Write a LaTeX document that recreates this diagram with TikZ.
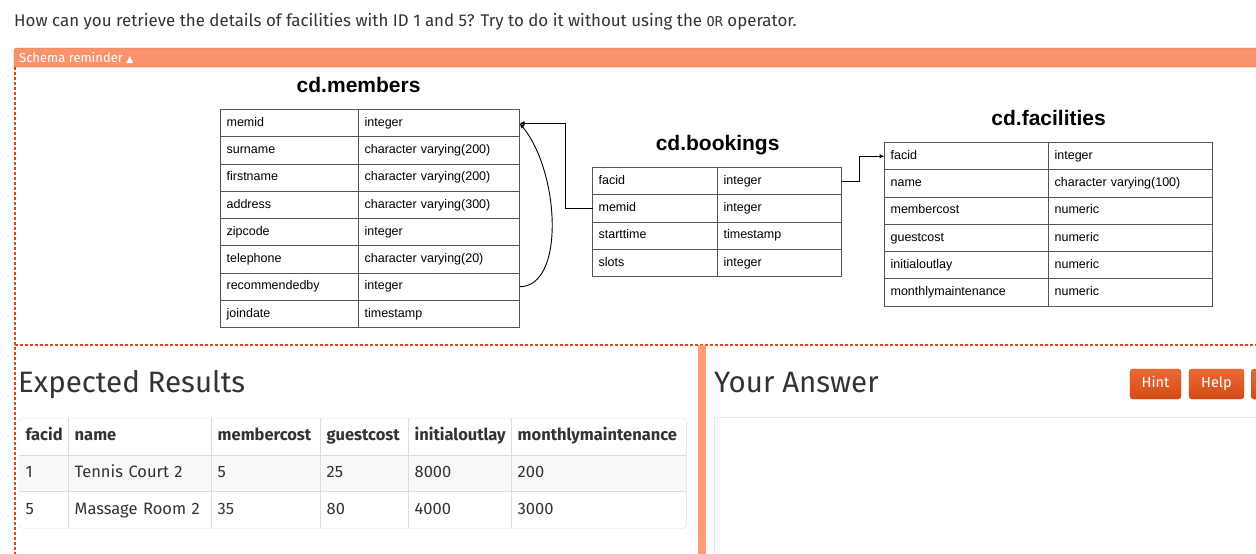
\documentclass[tikz,border=0pt]{standalone}
\usepackage{fontspec}
\setmainfont{Fira Sans}
\newfontfamily\arialfont{Liberation Sans}
\newfontfamily\codefont{DejaVu Sans Mono}
\newfontfamily\symbfont{DejaVu Sans}
\usetikzlibrary{arrows.meta, positioning, matrix}

\definecolor{barorange}{HTML}{F9936E}
\definecolor{barline}{HTML}{E2622F}
\definecolor{dashorange}{HTML}{E4481A}
\definecolor{splitter}{HTML}{FF9B77}
\definecolor{btntop}{HTML}{EB6A35}
\definecolor{btnbottom}{HTML}{D44A17}
\definecolor{btnline}{HTML}{C2431A}
\definecolor{textgrey}{HTML}{333333}
\definecolor{cellline}{HTML}{DDDDDD}
\definecolor{answerline}{HTML}{E6E6E6}
\definecolor{stripe}{HTML}{F9F9F9}
\definecolor{schemaline}{HTML}{555555}

\tikzset{
  schema/.style={matrix of nodes, anchor=north west, inner sep=0pt,
    column sep=-0.8pt, row sep=-0.8pt,
    nodes={draw=schemaline, line width=0.8pt, outer sep=0pt, inner xsep=6pt,
      minimum height=27.25pt, text height=9pt, text depth=2.5pt, align=left,
      font=\arialfont\fontsize{12.5}{14}\selectfont}},
  tabtitle/.style={font=\arialfont\bfseries\fontsize{21}{24}\selectfont, inner sep=0pt,
    text height=15pt, text depth=4.5pt},
  restable/.style={matrix of nodes, anchor=north west, inner sep=0pt,
    column sep=0pt, row sep=0pt,
    nodes={outer sep=0pt, inner xsep=6.5pt, minimum height=36.7pt,
      text height=11.5pt, text depth=3pt, align=left, text=textgrey,
      font=\fontsize{16.5}{19}\selectfont},
    row 1/.style={nodes={font=\bfseries\fontsize{16.5}{19}\selectfont}},
    row 2/.style={nodes={fill=stripe}},
    column 1/.style={nodes={text width=36pt}},
    column 2/.style={nodes={text width=130pt}},
    column 3/.style={nodes={text width=96pt}},
    column 4/.style={nodes={text width=75pt}},
    column 5/.style={nodes={text width=90pt}},
    column 6/.style={nodes={text width=162pt}}},
  heading/.style={anchor=base west, inner sep=0pt, text=textgrey,
    font=\fontsize{29.5}{34}\selectfont},
  button/.style={rounded corners=3pt, draw=btnline, top color=btntop,
    bottom color=btnbottom, text=white, minimum height=30pt, inner sep=0pt,
    text height=10pt, text depth=2.5pt, font=\fontsize{14.5}{16}\selectfont},
  dashedge/.style={dashorange, line width=1.2pt, dash pattern=on 3pt off 2pt},
  link/.style={line width=1.1pt, -{Latex[length=5pt,width=4.5pt]}}
}

\begin{document}
\begin{tikzpicture}[x=1pt, y=-1pt]
\useasboundingbox[fill=white] (0,0) rectangle (1256,554);

\node[anchor=base west, inner sep=0pt, text=textgrey, font=\fontsize{16.9}{20}\selectfont] (question) at (14,27)
  {How can you retrieve the details of facilities with ID 1 and 5? Try to do it without using the {\codefont\fontsize{13.5}{15}\selectfont OR} operator.};

% schema reminder bar
\draw[barline, fill=barorange, rounded corners=3pt] (14,67) -- (14,48) -- (1270,48) [sharp corners] -- (1270,67) -- cycle;
\node[anchor=base west, inner sep=0pt, text=white, font=\fontsize{13}{15}\selectfont] (schemalabel) at (19,62)
  {Schema reminder {\symbfont\fontsize{9}{10}\selectfont ▲}};

\draw[dashedge] (15,67) -- (15,554);
\draw[dashedge] (15,345) -- (1256,345);

% schema tables
\matrix (members) [schema, column 1/.style={nodes={text width=126pt}},
  column 2/.style={nodes={text width=149pt}}] at (220,109) {
memid & integer \\
surname & character varying(200) \\
firstname & character varying(200) \\
address & character varying(300) \\
zipcode & integer \\
telephone & character varying(20) \\
recommendedby & integer \\
joindate & timestamp \\
};

\matrix (bookings) [schema, column 1/.style={nodes={text width=113pt}},
  column 2/.style={nodes={text width=112pt}}] at (592,167) {
facid & integer \\
memid & integer \\
starttime & timestamp \\
slots & integer \\
};

\matrix (facilities) [schema, column 1/.style={nodes={text width=152pt}},
  column 2/.style={nodes={text width=152pt}}] at (884,142) {
facid & integer \\
name & character varying(100) \\
membercost & numeric \\
guestcost & numeric \\
initialoutlay & numeric \\
monthlymaintenance & numeric \\
};

\node[tabtitle, above=12pt of members-1-2.north west] (memberstitle) {cd.members};
\node[tabtitle, above=12pt of bookings-1-2.north west] (bookingstitle) {cd.bookings};
\node[tabtitle, above=12pt of facilities-1-2.north west] (facilitiestitle) {cd.facilities};

\draw[link] (bookings-2-1.west) -- ++(-27,0) |- (members-1-2.east);
\draw[link, line width=0.9pt] (members-7-2.east) .. controls +(46,0) and +(40,48) .. (members-1-2.east);
\draw[link] (bookings-1-2.east) -- ++(18,0) |- (facilities-1-1.west);

% results
\node[heading] (expected) at (18,392) {Expected Results};
\node[heading] (answer) at (714,392) {Your Answer};

\matrix (results) [restable] at (19,418) {
facid & name & membercost & guestcost & initialoutlay & monthlymaintenance \\
1 & Tennis Court 2 & 5 & 25 & 8000 & 200 \\
5 & Massage Room 2 & 35 & 80 & 4000 & 3000 \\
};
\foreach \c in {2,...,6}
  \draw[cellline] (results-1-\c.north west) -- (results-3-\c.south west);
\foreach \r in {2,3}
  \draw[cellline] (results-\r-1.north west) -- (results-\r-6.north east);
\draw[cellline, rounded corners=4pt] (results.north west) rectangle (results.south east);

% splitter
\fill[splitter] (698,345) rectangle (706,554);
\foreach \d in {526,530,534}
  \fill[gray!70] (702,\d) circle (0.8pt);

\node[button, minimum width=51pt] (hint) at (1155.5,384) {Hint};
\node[button, minimum width=55pt] (help) at (1216.5,384) {Help};
\node[button, minimum width=40pt, anchor=north west] (more) at (1251,369) {};

\draw[answerline] (714,417) rectangle (1270,570);

\end{tikzpicture}
\end{document}
